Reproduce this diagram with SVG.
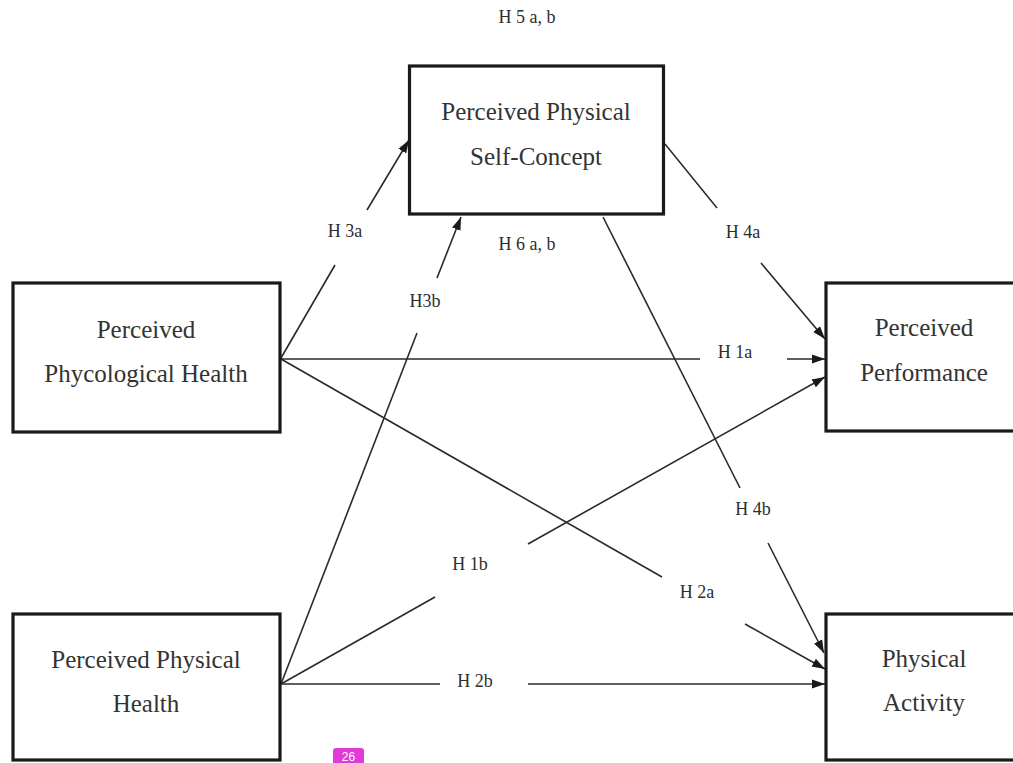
<svg xmlns="http://www.w3.org/2000/svg" width="1013" height="763" viewBox="0 0 1013 763">
<style>
.box{fill:#fff;stroke:#1a1a1a;stroke-width:3.2}
.nt{font-family:"Liberation Serif","Times New Roman",serif;font-size:25px;fill:#333;text-anchor:middle}
.lb{font-family:"Liberation Serif","Times New Roman",serif;font-size:18px;fill:#2e2e2e;text-anchor:middle}
.ln{stroke:#2a2a2a;stroke-width:1.6;fill:none}
</style>
<defs>
<marker id="ah" markerUnits="userSpaceOnUse" markerWidth="14" markerHeight="10" refX="13" refY="5" orient="auto">
<path d="M0,0.5 L13,5 L0,9.5 z" fill="#1a1a1a"/>
</marker>
</defs>
<rect width="1013" height="763" fill="#fff"/>
<g id="connectors">
<line class="ln" x1="281" y1="358" x2="335" y2="265"/>
<line class="ln" x1="367" y1="210" x2="409" y2="140" marker-end="url(#ah)"/>
<line class="ln" x1="281" y1="684" x2="417" y2="333"/>
<line class="ln" x1="437" y1="278" x2="461" y2="217" marker-end="url(#ah)"/>
<line class="ln" x1="665" y1="144" x2="717" y2="208"/>
<line class="ln" x1="761" y1="263" x2="825" y2="339" marker-end="url(#ah)"/>
<line class="ln" x1="281" y1="359" x2="700" y2="359"/>
<line class="ln" x1="787" y1="359" x2="825" y2="359" marker-end="url(#ah)"/>
<line class="ln" x1="281" y1="684" x2="435" y2="597"/>
<line class="ln" x1="528" y1="544" x2="825" y2="377" marker-end="url(#ah)"/>
<line class="ln" x1="281" y1="359" x2="662" y2="577"/>
<line class="ln" x1="745" y1="624" x2="825" y2="669" marker-end="url(#ah)"/>
<line class="ln" x1="281" y1="684" x2="440" y2="684"/>
<line class="ln" x1="528" y1="684" x2="825" y2="684" marker-end="url(#ah)"/>
<line class="ln" x1="603" y1="217" x2="740" y2="488"/>
<line class="ln" x1="768" y1="543" x2="824" y2="653" marker-end="url(#ah)"/>
</g>
<g id="labels">
<text class="lb" x="527" y="23">H 5 a, b</text>
<text class="lb" x="527" y="250">H 6 a, b</text>
<text class="lb" x="345" y="237">H 3a</text>
<text class="lb" x="425" y="307">H3b</text>
<text class="lb" x="743" y="238">H 4a</text>
<text class="lb" x="735" y="358">H 1a</text>
<text class="lb" x="753" y="515">H 4b</text>
<text class="lb" x="470" y="570">H 1b</text>
<text class="lb" x="697" y="598">H 2a</text>
<text class="lb" x="475" y="687">H 2b</text>
</g>
<g id="node-self-concept">
<rect class="box" x="409.5" y="66" width="254" height="148"/>
<text class="nt" x="536" y="120">Perceived Physical</text>
<text class="nt" x="536" y="165">Self-Concept</text>
</g>
<g id="node-psych-health">
<rect class="box" x="13" y="283" width="267" height="149"/>
<text class="nt" x="146" y="338">Perceived</text>
<text class="nt" x="146" y="382">Phycological Health</text>
</g>
<g id="node-performance">
<rect class="box" x="826" y="283" width="200" height="148"/>
<text class="nt" x="924" y="336">Perceived</text>
<text class="nt" x="924" y="381">Performance</text>
</g>
<g id="node-physical-health">
<rect class="box" x="13" y="614" width="267" height="146"/>
<text class="nt" x="146" y="668">Perceived Physical</text>
<text class="nt" x="146" y="712">Health</text>
</g>
<g id="node-physical-activity">
<rect class="box" x="826" y="614" width="200" height="146"/>
<text class="nt" x="924" y="667">Physical</text>
<text class="nt" x="924" y="711">Activity</text>
</g>
<g id="page-badge">
<rect x="333" y="748" width="31" height="22" rx="3" fill="#e03ad8"/>
<text x="348.5" y="761" font-family="'Liberation Sans',Arial,sans-serif" font-size="12" fill="#fff" text-anchor="middle">26</text>
</g>
</svg>
